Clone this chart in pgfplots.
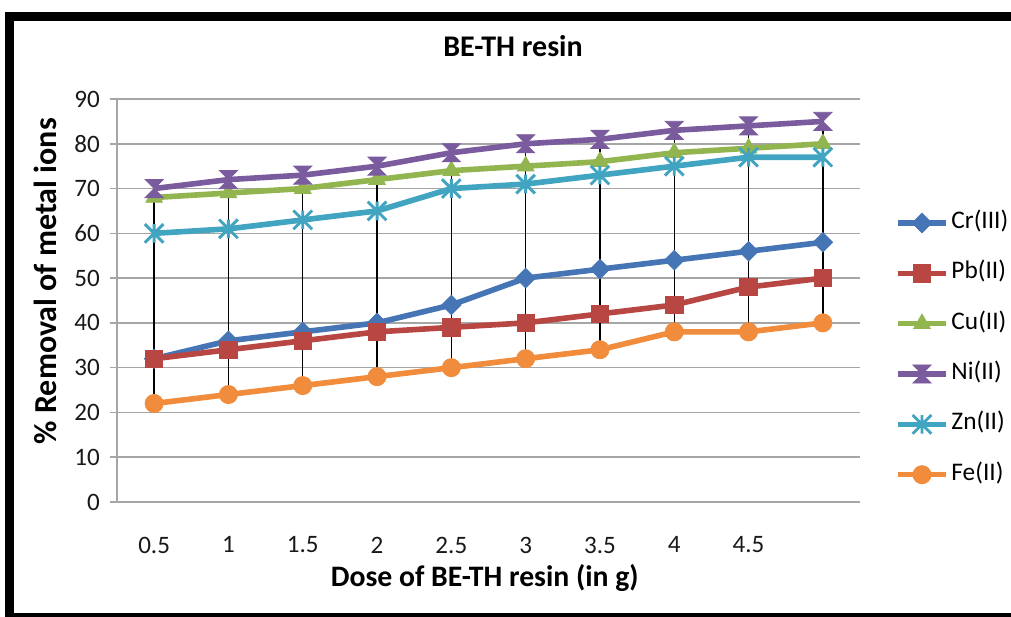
\documentclass[border=0pt]{standalone}
\usepackage{pgfplots}
\pgfplotsset{compat=1.18}
\usepackage{fontspec}
\setmainfont{Carlito}

\definecolor{crc}{HTML}{4575B4}
\definecolor{pbc}{HTML}{B84744}
\definecolor{cuc}{HTML}{92B550}
\definecolor{nic}{HTML}{7A5C9E}
\definecolor{znc}{HTML}{41A4C0}
\definecolor{fec}{HTML}{F08C3C}
\definecolor{gridc}{HTML}{A6A6A6}

% Excel-like marker shapes
\pgfdeclareplotmark{xldiamond}{%
  \pgfpathmoveto{\pgfqpoint{0pt}{\pgfplotmarksize}}%
  \pgfpathlineto{\pgfqpoint{\pgfplotmarksize}{0pt}}%
  \pgfpathlineto{\pgfqpoint{0pt}{-\pgfplotmarksize}}%
  \pgfpathlineto{\pgfqpoint{-\pgfplotmarksize}{0pt}}%
  \pgfpathclose\pgfusepathqfillstroke}
\pgfdeclareplotmark{hourglass}{%
  \pgfpathmoveto{\pgfqpoint{-\pgfplotmarksize}{\pgfplotmarksize}}%
  \pgfpathlineto{\pgfqpoint{\pgfplotmarksize}{\pgfplotmarksize}}%
  \pgfpathlineto{\pgfqpoint{-\pgfplotmarksize}{-\pgfplotmarksize}}%
  \pgfpathlineto{\pgfqpoint{\pgfplotmarksize}{-\pgfplotmarksize}}%
  \pgfpathclose\pgfusepathqfillstroke}
\pgfdeclareplotmark{xlstar}{%
  \pgfpathmoveto{\pgfqpoint{-\pgfplotmarksize}{-\pgfplotmarksize}}%
  \pgfpathlineto{\pgfqpoint{\pgfplotmarksize}{\pgfplotmarksize}}%
  \pgfpathmoveto{\pgfqpoint{-\pgfplotmarksize}{\pgfplotmarksize}}%
  \pgfpathlineto{\pgfqpoint{\pgfplotmarksize}{-\pgfplotmarksize}}%
  \pgfpathmoveto{\pgfqpoint{0pt}{-\pgfplotmarksize}}%
  \pgfpathlineto{\pgfqpoint{0pt}{\pgfplotmarksize}}%
  \pgfusepathqstroke}

\begin{document}
\begin{tikzpicture}
% page and frame (1 unit = 1 px)
\begin{scope}[x=0.75pt,y=-0.75pt]
  \fill[white] (0,0) rectangle (1011,617);
  \useasboundingbox (0,0) rectangle (1011,617);
  \fill[black] (5,12) rectangle (1011,21);
  \fill[black] (5,12) rectangle (14,617);
  \fill[black] (5,613) rectangle (1011,617);
\end{scope}

\begin{axis}[
  at={(87.75pt,-376.5pt)}, anchor=south west,
  scale only axis, width=557.25pt, height=302.25pt,
  xmin=-0.5, xmax=9.5, ymin=0, ymax=90,
  xtick={0,...,9},
  xticklabels={0.5,1,1.5,2,2.5,3,3.5,4,4.5,{}},
  ytick={0,10,...,90},
  axis lines*=left,
  axis line style={gridc, line width=1.2pt},
  ymajorgrids,
  major grid style={gridc, line width=1.2pt},
  tick align=outside,
  major tick length=5.25pt,
  major x tick style={draw=none},
  major y tick style={gridc, line width=1.2pt},
  /pgf/number format/assume math mode=true,
  tick label style={font=\fontsize{18.8}{18.8}\selectfont, text=black!90},
  yticklabel style={anchor=east, inner sep=0pt, xshift=-7.5pt},
  xticklabel style={anchor=north, inner sep=0pt, yshift=-20.6pt},
  title={BE-TH resin},
  title style={at={(axis description cs:0.533,1.112)}, anchor=center,
    font=\bfseries\fontsize{22.5}{22.5}\selectfont},
  xlabel={Dose of BE-TH resin (in g)},
  xlabel style={at={(axis description cs:0.495,-0.189)}, anchor=center,
    font=\bfseries\fontsize{22.3}{22.3}\selectfont},
  ylabel={\% Removal of metal ions},
  ylabel style={at={(axis description cs:-0.0969,0.548)}, anchor=center,
    font=\bfseries\fontsize{24}{24}\selectfont},
  legend cell align=left,
  legend image code/.code={%
    \draw[mark repeat=2, mark phase=2] plot coordinates {(0pt,0pt) (18pt,0pt) (36pt,0pt)};},
  legend style={at={(axis description cs:1.047,0.38)}, anchor=west,
    draw=none, fill=none, inner sep=0pt, row sep=15.75pt,
    font=\fontsize{19}{19}\selectfont,
    nodes={text height=13pt, text depth=5pt, inner sep=2pt}},
]

% Cr(III)
\addplot[crc, line width=4.2pt, mark=xldiamond, mark size=7.3pt,
  mark options={line width=0.6pt, fill=crc}]
  coordinates {(0,32) (1,36) (2,38) (3,40) (4,44) (5,50) (6,52) (7,54) (8,56) (9,58)};
\addlegendentry{Cr(III)}
% Pb(II)
\addplot[pbc, line width=4.2pt, mark=square*, mark size=6.5pt,
  mark options={line width=0.6pt, fill=pbc}]
  coordinates {(0,32) (1,34) (2,36) (3,38) (4,39) (5,40) (6,42) (7,44) (8,48) (9,50)};
\addlegendentry{Pb(II)}
% Cu(II)
\addplot[cuc, line width=4.2pt, mark=triangle*, mark size=7.2pt,
  mark options={line width=0.6pt, fill=cuc}]
  coordinates {(0,68) (1,69) (2,70) (3,72) (4,74) (5,75) (6,76) (7,78) (8,79) (9,80)};
\addlegendentry{Cu(II)}
% Ni(II)
\addplot[nic, line width=4.2pt, mark=hourglass, mark size=6.8pt,
  mark options={line width=0.6pt, fill=nic}]
  coordinates {(0,70) (1,72) (2,73) (3,75) (4,78) (5,80) (6,81) (7,83) (8,84) (9,85)};
\addlegendentry{Ni(II)}
% Zn(II)
\addplot[znc, line width=4.2pt, mark=xlstar, mark size=7pt,
  mark options={line width=2.2pt}]
  coordinates {(0,60) (1,61) (2,63) (3,65) (4,70) (5,71) (6,73) (7,75) (8,77) (9,77)};
\addlegendentry{Zn(II)}
% Fe(II)
\addplot[fec, line width=4.2pt, mark=*, mark size=6.8pt,
  mark options={line width=0.6pt, fill=fec}]
  coordinates {(0,22) (1,24) (2,26) (3,28) (4,30) (5,32) (6,34) (7,38) (8,38) (9,40)};
\addlegendentry{Fe(II)}

% high-low lines from the lowest to the highest series
\addplot[black, line width=1.1pt, unbounded coords=jump, forget plot]
  coordinates {(0,22) (0,70) (0,nan)
               (1,24) (1,72) (1,nan)
               (2,26) (2,73) (2,nan)
               (3,28) (3,75) (3,nan)
               (4,30) (4,78) (4,nan)
               (5,32) (5,80) (5,nan)
               (6,34) (6,81) (6,nan)
               (7,38) (7,83) (7,nan)
               (8,38) (8,84) (8,nan)
               (9,40) (9,85)};
\end{axis}
\end{tikzpicture}
\end{document}
